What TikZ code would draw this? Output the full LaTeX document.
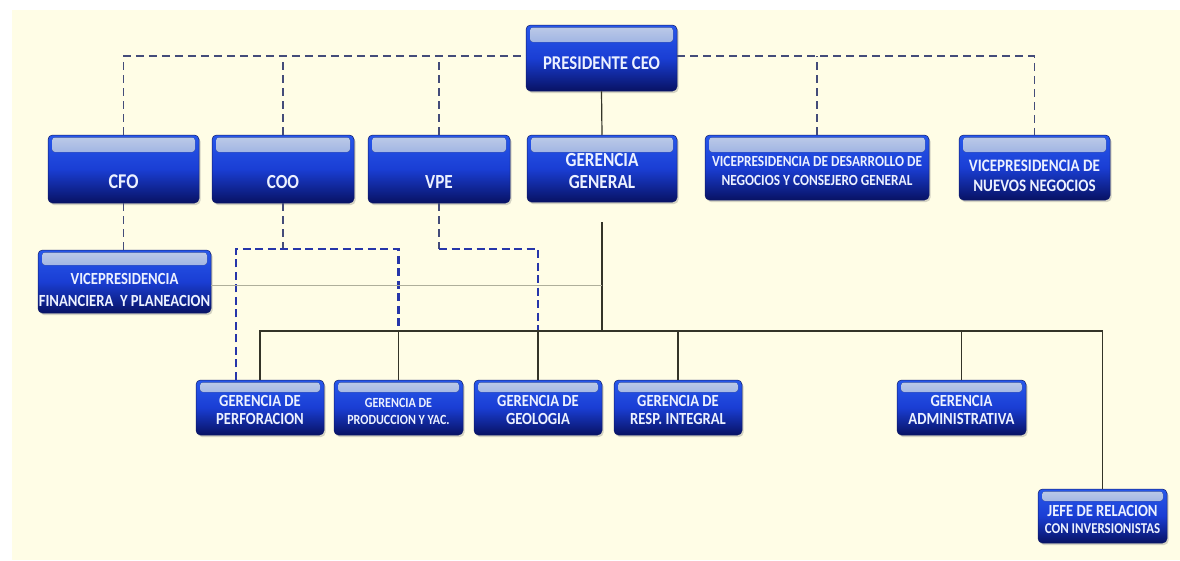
\documentclass[tikz,border=0pt]{standalone}
\usepackage{fontspec}
\newfontfamily\boxfont{Carlito}[FakeStretch=0.86]
\usetikzlibrary{shadows,calc}

\definecolor{paper}{RGB}{255,253,230}
\definecolor{boxtop}{RGB}{40,88,235}
\definecolor{boxmid}{RGB}{26,62,212}
\definecolor{boxbot}{RGB}{8,18,100}
\definecolor{boxedge}{RGB}{16,28,105}
\definecolor{glosstop}{RGB}{212,226,255}
\definecolor{glossbot}{RGB}{82,126,236}
\definecolor{labelwhite}{RGB}{236,241,255}
\definecolor{dashgray}{RGB}{68,76,122}
\definecolor{dashblue}{RGB}{38,54,170}
\definecolor{linkdark}{RGB}{52,52,40}
\definecolor{linklight}{RGB}{175,175,155}

\tikzset{
  orgbox/.style={rectangle, rounded corners=4.5pt, draw=boxedge, line width=0.5pt,
    top color=boxtop, bottom color=boxbot, middle color=boxmid,
    drop shadow={shadow xshift=1.5pt, shadow yshift=-2pt, fill=black!55, opacity=0.3},
    path picture={\fill[rounded corners=3pt, top color=glosstop, bottom color=glossbot,
        fill opacity=0.9]
      ([xshift=4pt,yshift=-2.5pt]path picture bounding box.north west) rectangle
      ([xshift=-4pt,yshift=-#1]path picture bounding box.north east);}},
  orgbox/.default=17pt,
  boxlabel/.style 2 args={text=labelwhite, align=center, inner sep=0pt,
    font=\boxfont\bfseries\fontsize{#1}{#2}\selectfont},
  dashtop/.style={draw=dashgray, line width=1.4pt, dash pattern=on 8pt off 5pt},
  dashlow/.style={draw=dashblue, line width=2.2pt, dash pattern=on 8pt off 4.5pt},
  solidlink/.style={draw=linkdark, line width=1.2pt},
  faintlink/.style={draw=linklight, line width=0.8pt},
}

\begin{document}
\begin{tikzpicture}[x=1pt,y=-1pt]
\useasboundingbox (0,0) rectangle (1180,560);
\fill[white] (0,0) rectangle (1180,560);
\fill[paper] (12,10) rectangle (1180,560);

% top row
\node[orgbox, minimum width=151pt, minimum height=66pt] (ceo) at (601.5,58) {};
\node[orgbox, minimum width=151pt, minimum height=68pt] (cfo) at (123.5,169) {};
\node[orgbox, minimum width=142pt, minimum height=68pt] (coo) at (283,169) {};
\node[orgbox, minimum width=142pt, minimum height=68pt] (vpe) at (439,169) {};
\node[orgbox, minimum width=150pt, minimum height=67pt] (gg) at (602,168.5) {};
\node[orgbox, minimum width=224pt, minimum height=65pt] (vpd) at (817,167.5) {};
\node[orgbox, minimum width=151pt, minimum height=65pt] (vpn) at (1034.5,167.5) {};
% second and third rows
\node[orgbox=15pt, minimum width=173pt, minimum height=63pt] (vpf) at (124.5,281.5) {};
\node[orgbox=12pt, minimum width=128pt, minimum height=55pt] (perf) at (260,407.5) {};
\node[orgbox=12pt, minimum width=129pt, minimum height=55pt] (prod) at (398.5,407.5) {};
\node[orgbox=12pt, minimum width=128pt, minimum height=55pt] (geo) at (538,407.5) {};
\node[orgbox=12pt, minimum width=128pt, minimum height=55pt] (resp) at (678,407.5) {};
\node[orgbox=12pt, minimum width=129pt, minimum height=55pt] (adm) at (961.5,407.5) {};
\node[orgbox=12pt, minimum width=129pt, minimum height=54pt] (jefe) at (1102.5,516) {};

% labels
\node[boxlabel={19.5}{22}] (ceo-l) at ([yshift=-5pt]ceo.center) {PRESIDENTE CEO};
\node[boxlabel={21}{24}] (cfo-l) at ([yshift=-13pt]cfo.center) {CFO};
\node[boxlabel={20}{24}] (coo-l) at ([yshift=-13pt]coo.center) {COO};
\node[boxlabel={20}{24}] (vpe-l) at ([yshift=-13pt]vpe.center) {VPE};
\node[boxlabel={20}{22}] (gg-l) at ([yshift=-2.5pt]gg.center) {GERENCIA\\GENERAL};
\node[boxlabel={15.5}{19}] (vpd-l) at ([yshift=-3pt]vpd.center)
  {VICEPRESIDENCIA DE DESARROLLO DE\\NEGOCIOS Y CONSEJERO GENERAL};
\node[boxlabel={17.5}{20}] (vpn-l) at ([yshift=-8.5pt]vpn.center)
  {VICEPRESIDENCIA DE\\NUEVOS NEGOCIOS};
\node[boxlabel={17}{22}] (vpf-l) at ([yshift=-8.5pt]vpf.center)
  {VICEPRESIDENCIA\\FINANCIERA \ Y PLANEACION};
\node[boxlabel={17}{18.5}] (perf-l) at ([yshift=-2.5pt]perf.center) {GERENCIA DE\\PERFORACION};
\node[boxlabel={14}{17}] (prod-l) at ([yshift=-4pt]prod.center) {GERENCIA DE\\PRODUCCION Y YAC.};
\node[boxlabel={17}{18.5}] (geo-l) at ([yshift=-2.5pt]geo.center) {GERENCIA DE\\GEOLOGIA};
\node[boxlabel={17}{18.5}] (resp-l) at ([yshift=-2.5pt]resp.center) {GERENCIA DE\\RESP. INTEGRAL};
\node[boxlabel={17}{18.5}] (adm-l) at ([yshift=-2.5pt]adm.center) {GERENCIA\\ADMINISTRATIVA};
\node[boxlabel={17}{17.5}] (jefe-l) at ([yshift=-3.5pt]jefe.center)
  {JEFE DE RELACION\\{\fontsize{15}{17.5}\selectfont CON INVERSIONISTAS}};

% junction points
\coordinate (ceo-w) at ([yshift=2pt]ceo.west);
\coordinate (ceo-e) at ([yshift=2pt]ceo.east);
\coordinate (fork) at (236,249);
\coordinate (bus) at (602,331);
\coordinate (gg-stem) at ([yshift=-20pt]gg.south);
\coordinate (faint-w) at ([yshift=-3.5pt]vpf.east);

% dashed advisory links from the president
\draw[dashtop] (cfo.north) |- (ceo-w);
\draw[dashtop] (coo.north) -- (coo.north |- ceo-w);
\draw[dashtop] (vpe.north) -- (vpe.north |- ceo-w);
\draw[dashtop] (ceo-e) -| (vpn.north);
\draw[dashtop] (vpd.north) -- (vpd.north |- ceo-e);
\draw[dashtop] (cfo.south) -- (cfo.south |- vpf.north);
\draw[dashtop] (coo.south) -- (coo.south |- fork);
\draw[dashtop] (vpe.south) -- (vpe.south |- fork);

% dashed functional links to the managements
\draw[dashlow] (perf.north -| fork) -- (fork) -| (prod.north |- bus);
\draw[dashlow] (vpe.south |- fork) -| (geo.north |- bus);

% solid line of command
\draw[solidlink] (ceo.south) -- (gg.north);
\draw[solidlink] (gg-stem) -- (bus);
\draw[solidlink] (perf.north) |- (bus) -| (jefe.north);
\draw[solidlink] (prod.north) -- (prod.north |- bus);
\draw[solidlink] (geo.north) -- (geo.north |- bus);
\draw[solidlink] (resp.north) -- (resp.north |- bus);
\draw[solidlink] (adm.north) -- (adm.north |- bus);
\draw[faintlink] (faint-w) -- (faint-w -| bus);
\end{tikzpicture}
\end{document}
